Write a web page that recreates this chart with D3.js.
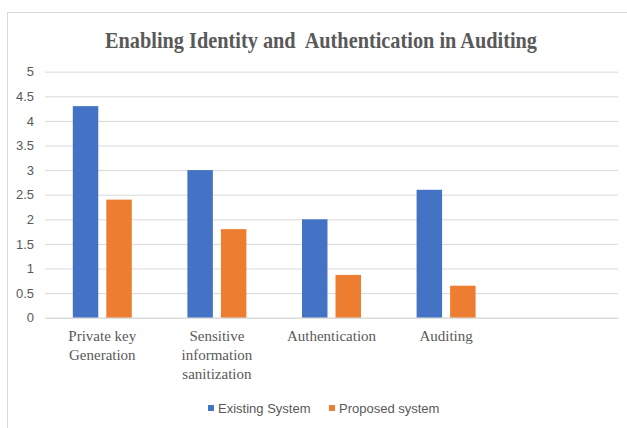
<!doctype html>
<html>
<head>
<title>Enabling Identity and Authentication in Auditing</title>
<style type="text/css">
body { margin: 0; background: #fff; }
svg { display: block; }
</style>
<script src="https://cdnjs.cloudflare.com/ajax/libs/d3/7.8.5/d3.min.js"></script>
</head>
<body>
<script type="text/javascript">
var width = 627;
var height = 428;

// data
var categories = ["Private key\nGeneration", "Sensitive\ninformation\nsanitization", "Authentication", "Auditing", ""];
var series = ["Existing System", "Proposed system"];
var existing = [4.3, 3.0, 2.0, 2.6];
var proposed = [2.4, 1.8, 0.87, 0.65];
var yTicks = [0, 0.5, 1, 1.5, 2, 2.5, 3, 3.5, 4, 4.5, 5];
var colors = ["#4472C4", "#ED7D31"];

var svg = d3.select("body").append("svg")
	.attr("width", width)
	.attr("height", height);

// chart frame (runs off the right and bottom edges)
svg.append("rect")
	.attr("x", 7.5).attr("y", 12.5)
	.attr("width", 660).attr("height", 440)
	.attr("fill", "none")
	.attr("stroke", "#d9d9d9");

svg.append("text")
	.attr("x", 105).attr("y", 48)
	.attr("textLength", 432)
	.attr("lengthAdjust", "spacingAndGlyphs")
	.style("font-family", "'Liberation Serif', 'Times New Roman', serif")
	.style("font-weight", "bold")
	.style("font-size", "24px")
	.style("fill", "#595959")
	.style("white-space", "pre")
	.text("Enabling Identity and  Authentication in Auditing");

// plot area ("top" is taken by window.top, so use other names)
var plotLeft = 45, plotRight = 618, plotTop = 71.7, plotBottom = 317.7;

var x0 = d3.scaleBand().domain(categories).range([plotLeft, plotRight]);
var groupW = 59;
var x1 = d3.scaleBand().domain(series).range([0, groupW]).paddingInner(0.24);
var y = d3.scaleLinear().domain([0, 5]).range([plotBottom, plotTop]);

// y axis with gridlines
var yAxis = svg.append("g")
	.attr("transform", "translate(" + plotLeft + ",0)")
	.call(d3.axisLeft(y).tickValues(yTicks).tickFormat(function(d) { return String(d); })
		.tickSize(-(plotRight - plotLeft)).tickPadding(11));
yAxis.select(".domain").remove();
yAxis.selectAll(".tick line").attr("stroke", "#d9d9d9");
yAxis.selectAll(".tick text")
	.style("font-family", "'Liberation Sans', Arial, sans-serif")
	.style("font-size", "13px")
	.style("fill", "#595959");

// bars
var rows = existing.map(function(v, i) {
	return { cat: categories[i], vals: [v, proposed[i]] };
});
var off = (x0.bandwidth() - groupW) / 2;

var groups = svg.selectAll(".group")
	.data(rows)
	.enter().append("g")
	.classed("group", true)
	.attr("transform", function(d) { return "translate(" + (x0(d.cat) + off) + ",0)"; });

groups.selectAll("rect")
	.data(function(d) { return d.vals.map(function(v, j) { return { s: series[j], v: v, c: colors[j] }; }); })
	.enter().append("rect")
	.attr("x", function(d) { return x1(d.s); })
	.attr("width", x1.bandwidth())
	.attr("y", function(d) { return y(d.v); })
	.attr("height", function(d) { return plotBottom - y(d.v); })
	.attr("fill", function(d) { return d.c; });

// x axis with wrapped category labels
var xAxis = svg.append("g")
	.attr("transform", "translate(0," + plotBottom + ")")
	.call(d3.axisBottom(x0).tickSize(0).tickFormat(""));
xAxis.select(".domain").attr("stroke", "#d9d9d9");
xAxis.selectAll(".tick").each(function(d) {
	var lines = d.split("\n");
	var t = d3.select(this).append("text")
		.attr("fill", "#595959")
		.attr("text-anchor", "middle")
		.style("font-family", "'Liberation Serif', 'Times New Roman', serif")
		.style("font-size", "15px");
	lines.forEach(function(l, i) {
		t.append("tspan").attr("x", 0).attr("y", 23 + i * 19).text(l);
	});
});

// legend
var legend = svg.append("g").attr("transform", "translate(208,405)");
var legX = [0, 121];
series.forEach(function(s, i) {
	var g = legend.append("g").attr("transform", "translate(" + legX[i] + ",0)");
	g.append("rect").attr("width", 6).attr("height", 6).attr("fill", colors[i]);
	g.append("text")
		.attr("x", 10).attr("y", 7.5)
		.style("font-family", "'Liberation Sans', Arial, sans-serif")
		.style("font-size", "13px")
		.style("fill", "#595959")
		.text(s);
});
</script>
</body>
</html>
